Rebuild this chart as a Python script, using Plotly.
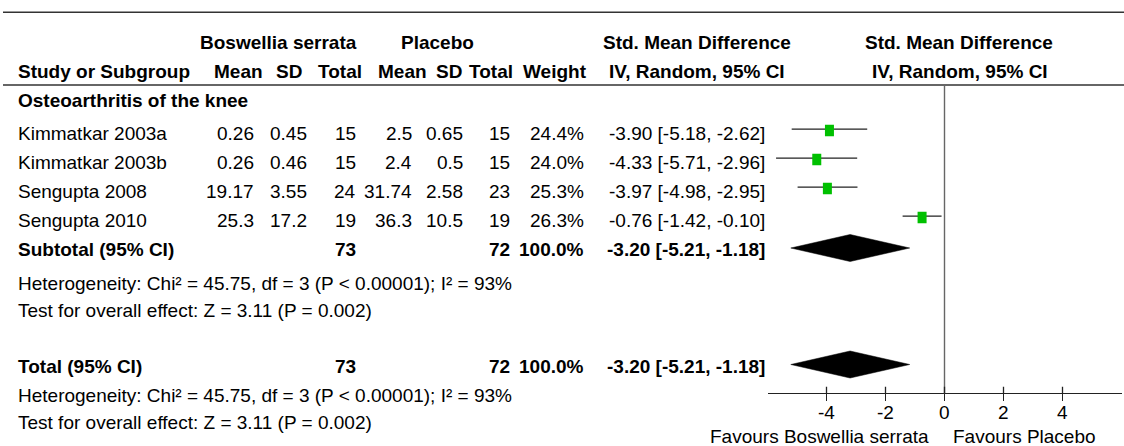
import plotly.graph_objects as go

W, H = 1124, 446

# ---- study data -------------------------------------------------------
studies = ["Kimmatkar 2003a", "Kimmatkar 2003b", "Sengupta 2008", "Sengupta 2010"]
bs_mean = [0.26, 0.26, 19.17, 25.3]
bs_sd = [0.45, 0.46, 3.55, 17.2]
bs_n = [15, 15, 24, 19]
pl_mean = [2.5, 2.4, 31.74, 36.3]
pl_sd = [0.65, 0.5, 2.58, 10.5]
pl_n = [15, 15, 23, 19]
weights = [24.4, 24.0, 25.3, 26.3]
smd = [-3.90, -4.33, -3.97, -0.76]
ci_lo = [-5.18, -5.71, -4.98, -1.42]
ci_hi = [-2.62, -2.96, -2.95, -0.10]

pooled = [-3.20, -5.21, -1.18]   # estimate, lower, upper
total_bs = 73
total_pl = 72
total_weight = 100.0
subgroup = "Osteoarthritis of the knee"
heterogeneity = "Heterogeneity: Chi² = 45.75, df = 3 (P < 0.00001); I² = 93%"
overall = "Test for overall effect: Z = 3.11 (P = 0.002)"
tick_vals = [-4, -2, 0, 2, 4]
axis_range = [-6, 6]
favours_left = "Favours Boswellia serrata"
favours_right = "Favours Placebo"

# ---- layout constants (pixels) ---------------------------------------
FONT = "Liberation Sans, Arial, Helvetica, sans-serif"
FS = 19
PLOT_X0, PLOT_X1 = 767.5, 1121.5
TOPLINE_Y, HEADLINE_Y = 12.3, 85
HEAD1_Y, HEAD2_Y = 42, 71
GROUP_Y = 100
ROW_Y = [133.5, 162.5, 191.5, 220.5]
LINE_DY = -4.3
SUB_Y, SUB_DIAM_Y = 249.5, 248
HET1_Y, TEST1_Y = 283, 310
TOTAL_Y, TOTAL_DIAM_Y = 366.5, 364.5
HET2_Y, TEST2_Y = 395, 422
AXIS_Y = 393.3
TICKLAB_Y = 412
FAV_Y = 436
LEFT_X = 17
DIAM_HALF = 13.5
SQ_W, SQ_H = 9, 11.5
GREEN = "#00c000"
INK = "#000000"
RULE = "#333333"

COL_R = dict(bs_mean=255, bs_sd=308, bs_n=357, pl_mean=413, pl_sd=464,
             pl_n=511, weight=585, effect=766)

fig = go.Figure()
ann = []


def text(x, y, s, anchor="left", bold=False, size=FS, xref="paper"):
    ann.append(dict(
        x=x / W if xref == "paper" else x, xref=xref, y=y, yref="y",
        text=f"<b>{s}</b>" if bold else s,
        xanchor=anchor, yanchor="middle", showarrow=False,
        font=dict(family=FONT, size=size, color=INK), borderpad=0,
    ))


# headers
text(278, HEAD1_Y, "Boswellia serrata", "center", True)
text(437, HEAD1_Y, "Placebo", "center", True)
text(697, HEAD1_Y, "Std. Mean Difference", "center", True)
text(959, HEAD1_Y, "Std. Mean Difference", "center", True)
text(LEFT_X, HEAD2_Y, "Study or Subgroup", "left", True)
for cx, lab in [(238.5, "Mean"), (289, "SD"), (339.5, "Total"), (402.5, "Mean"),
                (448.5, "SD"), (491, "Total"), (554.5, "Weight"),
                (696.5, "IV, Random, 95% CI"), (960, "IV, Random, 95% CI")]:
    text(cx, HEAD2_Y, lab, "center", True)

text(LEFT_X, GROUP_Y, subgroup, "left", True)

# study rows
for i, name in enumerate(studies):
    y = ROW_Y[i]
    text(LEFT_X, y, name)
    text(COL_R["bs_mean"], y, str(bs_mean[i]), "right")
    text(COL_R["bs_sd"], y, str(bs_sd[i]), "right")
    text(COL_R["bs_n"], y, str(bs_n[i]), "right")
    text(COL_R["pl_mean"], y, str(pl_mean[i]), "right")
    text(COL_R["pl_sd"], y, str(pl_sd[i]), "right")
    text(COL_R["pl_n"], y, str(pl_n[i]), "right")
    text(COL_R["weight"], y, f"{weights[i]:.1f}%", "right")
    text(COL_R["effect"], y, f"{smd[i]:.2f} [{ci_lo[i]:.2f}, {ci_hi[i]:.2f}]", "right")

pooled_txt = f"{pooled[0]:.2f} [{pooled[1]:.2f}, {pooled[2]:.2f}]"
for label, y in [("Subtotal (95% CI)", SUB_Y), ("Total (95% CI)", TOTAL_Y)]:
    text(LEFT_X, y, label, "left", True)
    text(COL_R["bs_n"], y, str(total_bs), "right", True)
    text(COL_R["pl_n"], y, str(total_pl), "right", True)
    text(COL_R["weight"], y, f"{total_weight:.1f}%", "right", True)
    text(COL_R["effect"], y, pooled_txt, "right", True)

for y1, y2 in [(HET1_Y, TEST1_Y), (HET2_Y, TEST2_Y)]:
    text(LEFT_X, y1, heterogeneity)
    text(LEFT_X, y2, overall)

# axis tick labels placed on the effect-size scale
for t in tick_vals:
    text(t, TICKLAB_Y, str(t), "center", xref="x")

text(930, FAV_Y, favours_left, "right")
text(952, FAV_Y, favours_right, "left")

# confidence intervals and weighted squares
for i in range(len(studies)):
    ly = ROW_Y[i] + LINE_DY
    fig.add_trace(go.Scatter(
        x=[ci_lo[i], ci_hi[i]], y=[ly, ly], mode="lines",
        line=dict(color="#222222", width=1.3), hoverinfo="skip", showlegend=False,
    ))
shapes = []
for i in range(len(studies)):
    ly = ROW_Y[i] + LINE_DY + 1.2
    shapes.append(dict(
        type="rect", xref="x", yref="y", xsizemode="pixel", ysizemode="pixel",
        xanchor=smd[i], yanchor=ly, x0=-SQ_W / 2, x1=SQ_W / 2,
        y0=-SQ_H / 2, y1=SQ_H / 2, fillcolor=GREEN, line=dict(width=0),
    ))

# pooled diamonds
for cy in (SUB_DIAM_Y, TOTAL_DIAM_Y):
    est, lo, hi = pooled
    fig.add_trace(go.Scatter(
        x=[lo, est, hi, est, lo], y=[cy, cy - DIAM_HALF, cy, cy + DIAM_HALF, cy],
        mode="lines", fill="toself", fillcolor="#000000",
        line=dict(color="#000000", width=0.5), hoverinfo="skip", showlegend=False,
    ))

# rules, null line, axis ticks
shapes.append(dict(type="line", xref="paper", yref="y", x0=3 / W, x1=1,
                   y0=TOPLINE_Y, y1=TOPLINE_Y, line=dict(color=RULE, width=1.6)))
shapes.append(dict(type="line", xref="paper", yref="y", x0=3 / W, x1=1,
                   y0=HEADLINE_Y, y1=HEADLINE_Y, line=dict(color=RULE, width=1.6)))
shapes.append(dict(type="line", xref="x", yref="y", x0=0, x1=0,
                   y0=HEADLINE_Y, y1=AXIS_Y, line=dict(color="#666666", width=1.4)))
for t in tick_vals:
    shapes.append(dict(type="line", xref="x", yref="y", x0=t, x1=t,
                       y0=AXIS_Y - 6.6, y1=AXIS_Y, line=dict(color="#222222", width=1.3)))

fig.update_layout(
    width=W, height=H, margin=dict(l=0, r=0, t=0, b=0),
    paper_bgcolor="white", plot_bgcolor="rgba(0,0,0,0)",
    annotations=ann, shapes=shapes, showlegend=False,
    xaxis=dict(
        domain=[PLOT_X0 / W, PLOT_X1 / W], range=axis_range, anchor="free",
        position=1 - AXIS_Y / H, showgrid=False, zeroline=False,
        showline=True, linecolor="#222222", linewidth=1.3,
        tickmode="array", tickvals=tick_vals, showticklabels=False,
        ticks="outside", ticklen=7, tickwidth=1.3, tickcolor="#222222",
    ),
    yaxis=dict(domain=[0, 1], range=[H, 0], visible=False, fixedrange=True),
)

fig.write_html("out.html")
